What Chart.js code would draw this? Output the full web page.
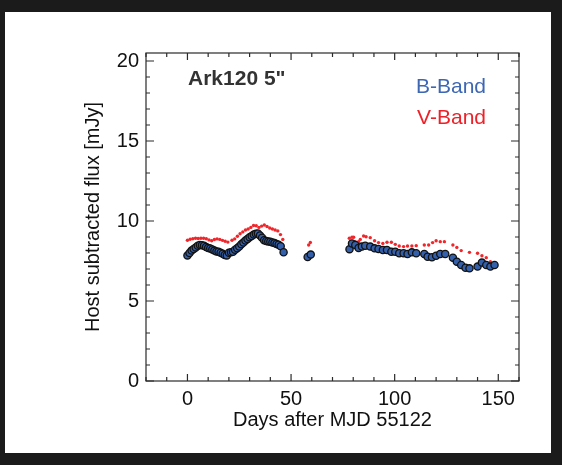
<!DOCTYPE html>
<html>
<head>
<meta charset="utf-8">
<script src="https://cdn.jsdelivr.net/npm/chart.js@4/dist/chart.umd.min.js"></script>
<style>
  html, body { margin: 0; padding: 0; background: #fff; }
  #wrap { width: 562px; height: 465px; position: relative; }
</style>
</head>
<body>
<div id="wrap"><canvas id="lc" width="562" height="465"></canvas></div>
<script>
// B-band light curve (days after MJD 55122, mJy)
const bDays = [0, 1, 2, 3, 4, 5, 6, 7, 8, 9, 10, 11, 12, 13, 14, 15, 16, 17, 18, 19,
  20, 21, 22, 23, 24, 25, 26, 27, 28, 29, 30, 31, 32, 33, 34, 35, 36, 37, 38, 39,
  40, 41, 42, 43, 44, 45, 46.4, 58, 59.5,
  78.2, 79.4, 81, 82.6, 84.2, 85.8, 88.2, 90.3, 92.2, 94.3, 96.3, 98.4, 100.3, 102.2,
  104.3, 106.2, 108.3, 110.4, 114.3, 115.9, 118, 120, 122, 124.4, 128.1, 130, 132.1,
  134.2, 136.1, 140, 142.1, 144.2, 146.2, 148.2];
const bFlux = [7.85, 8.0, 8.15, 8.25, 8.35, 8.45, 8.5, 8.48, 8.45, 8.38, 8.32, 8.28, 8.22, 8.15, 8.1, 8.08, 8.02, 7.95, 7.88, 7.85,
  8.02, 8.05, 8.08, 8.2, 8.3, 8.4, 8.55, 8.65, 8.78, 8.88, 8.98, 9.06, 9.15, 9.2, 9.22, 9.1, 8.95, 8.8, 8.75, 8.72,
  8.7, 8.66, 8.62, 8.56, 8.52, 8.42, 8.05, 7.75, 7.9,
  8.24, 8.6, 8.5, 8.32, 8.4, 8.45, 8.4, 8.29, 8.25, 8.19, 8.19, 8.08, 8.08, 7.98,
  7.98, 7.94, 8.04, 7.98, 7.94, 7.77, 7.73, 7.83, 7.94, 7.94, 7.71, 7.46, 7.25,
  7.08, 7.04, 7.15, 7.4, 7.25, 7.15, 7.25];

// V-band light curve
const vDays = [0, 1.3, 2.6, 3.9, 5.2, 6.5, 7.8, 9.1, 10.4, 11.7, 13, 14.3, 15.6, 16.9, 18.2, 19.5,
  21.5, 22.8, 24.1, 25.4, 26.7, 28, 29.3, 30.6, 31.9, 33.2, 34.5, 35.8, 37.1, 38.4, 39.7,
  41, 42.3, 43.6, 44.9, 46, 58.5, 59.3,
  78.1, 79.4, 80.2, 81, 82.6, 83.4, 85, 86.2, 88.2, 90.3, 92.2, 94.3, 96.3, 98.4,
  100.3, 102.2, 104.3, 106.2, 108.3, 110.4, 114.3, 116.4, 118.3, 120, 122, 124,
  128.1, 130, 132.1, 136.1, 140, 142.1, 144.2, 146.2];
const vFlux = [8.8, 8.86, 8.89, 8.92, 8.91, 8.92, 8.92, 8.89, 8.82, 8.77, 8.84, 8.88, 8.85, 8.79, 8.73, 8.68,
  8.8, 8.88, 9.05, 9.2, 9.32, 9.44, 9.5, 9.6, 9.72, 9.7, 9.6, 9.68, 9.75, 9.66, 9.56,
  9.5, 9.44, 9.38, 9.15, 8.85, 8.5, 8.66,
  8.92, 8.98, 8.98, 8.71, 8.71, 8.85, 9.06, 9.02, 8.96, 8.77, 8.65, 8.6, 8.67, 8.67,
  8.54, 8.44, 8.4, 8.44, 8.44, 8.46, 8.5, 8.5, 8.65, 8.77, 8.71, 8.71,
  8.5, 8.35, 8.15, 8.04, 7.98, 7.83, 7.71, 7.46];

const xTicks = [0, 50, 100, 150];
const yTicks = [0, 5, 10, 15, 20];

const FONT = "'Liberation Sans', Arial, sans-serif";
const AXIS = '#2a2a2a';

// black frame round the white page
const framePlugin = {
  id: 'frame',
  beforeDraw(chart) {
    const ctx = chart.ctx;
    ctx.save();
    ctx.fillStyle = '#1b1b1b';
    ctx.fillRect(0, 0, chart.width, chart.height);
    ctx.fillStyle = '#fff';
    ctx.fillRect(5, 12, 546, 441);
    ctx.restore();
  }
};

// IDL style box with inward ticks on all four sides, plus the text labels
const boxPlugin = {
  id: 'box',
  afterDraw(chart) {
    const {ctx, chartArea: a, scales: {x, y}} = chart;
    ctx.save();
    ctx.strokeStyle = AXIS;
    ctx.lineWidth = 1.2;
    ctx.strokeRect(a.left, a.top, a.right - a.left, a.bottom - a.top);
    ctx.beginPath();
    for (let v = -20; v <= 160; v += 10) {
      const px = x.getPixelForValue(v);
      const len = v % 50 === 0 ? 7 : 4;
      ctx.moveTo(px, a.bottom); ctx.lineTo(px, a.bottom - len);
      ctx.moveTo(px, a.top); ctx.lineTo(px, a.top + len);
    }
    for (let v = 0; v <= 20; v += 1) {
      const py = y.getPixelForValue(v);
      const len = v % 5 === 0 ? 8 : 4;
      ctx.moveTo(a.left, py); ctx.lineTo(a.left + len, py);
      ctx.moveTo(a.right, py); ctx.lineTo(a.right - len, py);
    }
    ctx.stroke();

    ctx.textBaseline = 'alphabetic';
    ctx.font = 'bold 21px ' + FONT;
    ctx.fillStyle = '#333';
    ctx.textAlign = 'left';
    ctx.fillText('Ark120 5"', 188, 85);
    ctx.font = '21px ' + FONT;
    ctx.textAlign = 'right';
    ctx.fillStyle = '#3d67b4';
    ctx.fillText('B-Band', 486, 93);
    ctx.fillStyle = '#ee2128';
    ctx.fillText('V-Band', 486, 124);
    ctx.restore();
  }
};

const points = (xs, ys) => xs.map((d, i) => ({x: d, y: ys[i]}));

new Chart(document.getElementById('lc'), {
  type: 'scatter',
  data: {
    datasets: [
      {
        label: 'B-Band',
        data: points(bDays, bFlux),
        pointRadius: 3.6,
        pointBackgroundColor: '#3460ab',
        pointBorderColor: '#111',
        pointBorderWidth: 1.3
      },
      {
        label: 'V-Band',
        data: points(vDays, vFlux),
        pointRadius: 1.7,
        pointBackgroundColor: '#f0262a',
        pointBorderWidth: 0
      }
    ]
  },
  options: {
    responsive: false,
    animation: false,
    events: [],
    layout: { padding: { left: 0, right: 43, top: 53, bottom: 0 } },
    plugins: {
      legend: { display: false },
      tooltip: { enabled: false }
    },
    scales: {
      x: {
        type: 'linear',
        min: -20,
        max: 160,
        afterBuildTicks: s => { s.ticks = xTicks.map(v => ({value: v})); },
        afterFit: s => { s.height = 84; },
        grid: { display: false, drawTicks: false },
        border: { display: false },
        ticks: { color: '#111', font: { family: FONT, size: 20 }, padding: 6, maxRotation: 0 },
        title: {
          display: true,
          text: 'Days after MJD 55122',
          color: '#111',
          font: { family: FONT, size: 20 },
          padding: { top: 0, bottom: 33 }
        }
      },
      y: {
        type: 'linear',
        min: 0,
        max: 20.5,
        afterBuildTicks: s => { s.ticks = yTicks.map(v => ({value: v})); },
        afterFit: s => { s.width = 146; },
        grid: { display: false, drawTicks: false },
        border: { display: false },
        ticks: { color: '#111', font: { family: FONT, size: 20 }, padding: 7 },
        title: {
          display: true,
          text: 'Host subtracted flux [mJy]',
          color: '#111',
          font: { family: FONT, size: 20 },
          padding: { top: 81, bottom: 0 }
        }
      }
    }
  },
  plugins: [framePlugin, boxPlugin]
});
</script>
</body>
</html>
